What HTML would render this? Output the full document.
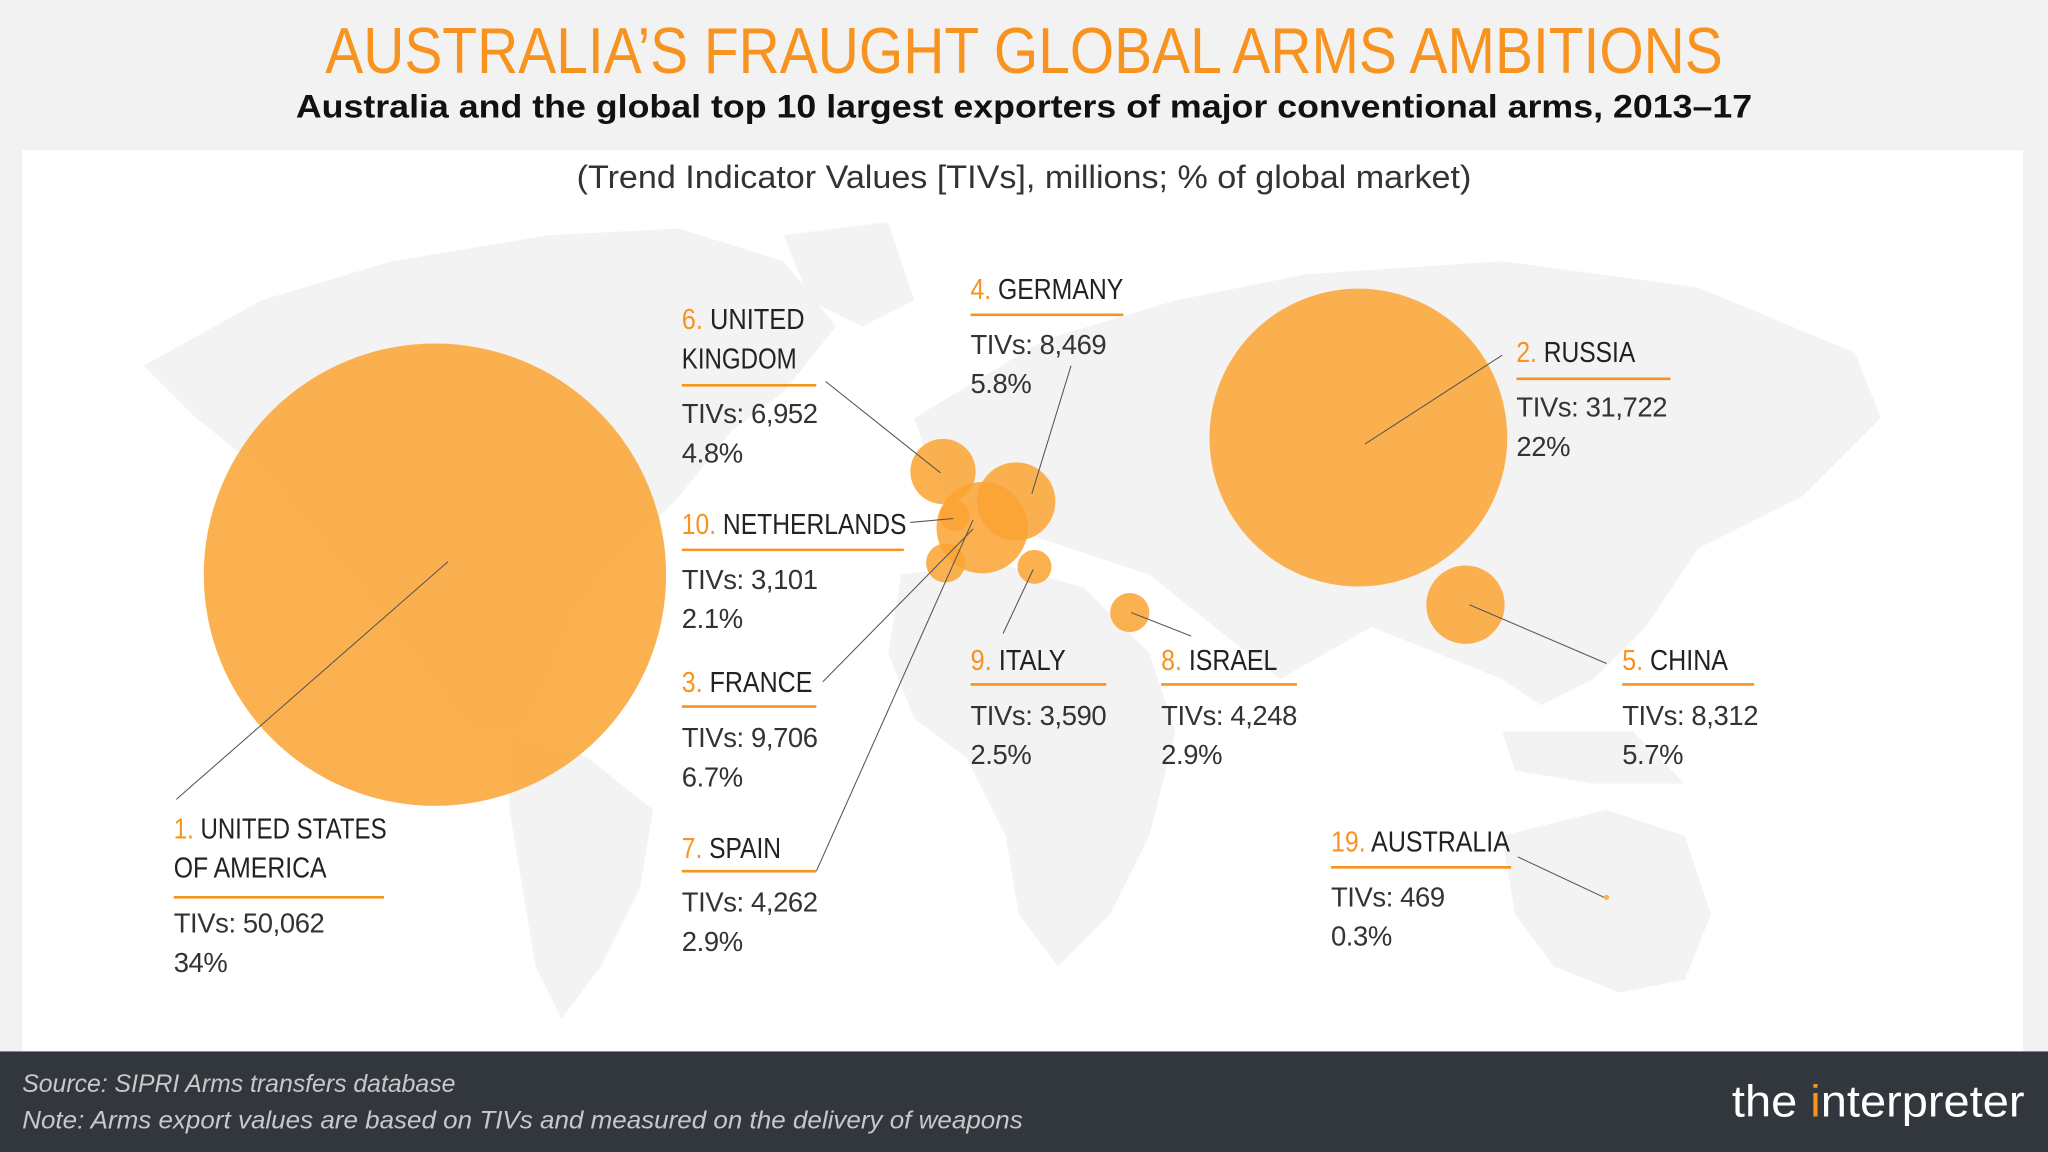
<!DOCTYPE html>
<html><head><meta charset="utf-8"><style>
html,body{margin:0;padding:0;background:#f2f2f2;}
svg{display:block;}
text{font-family:"Liberation Sans",sans-serif;}
.n{font-size:22px;fill:#222;}
.o{fill:#f7931e}
.v{font-size:21px;fill:#333;letter-spacing:-0.3px}
.u{stroke:#f7931e;stroke-width:2}
.l{stroke:#555;stroke-width:0.8}
.b{fill:#fba333;fill-opacity:0.85}
.m{fill:#f3f3f3}
</style></head><body>
<svg width="2048" height="1152" viewBox="0 0 1568 882" xmlns="http://www.w3.org/2000/svg">
<rect width="1568" height="882" fill="#f2f2f2"/>
<text x="784" y="56" text-anchor="middle" font-size="50" fill="#f7931e" textLength="1070" lengthAdjust="spacingAndGlyphs">AUSTRALIA’S FRAUGHT GLOBAL ARMS AMBITIONS</text>
<text x="784" y="90" text-anchor="middle" font-size="25" font-weight="bold" fill="#111" textLength="1115" lengthAdjust="spacingAndGlyphs">Australia and the global top 10 largest exporters of major conventional arms, 2013–17</text>
<rect x="17" y="115" width="1532" height="690" fill="#fff"/>
<g class="m">
<path d="M110 280 L200 230 L300 200 L420 180 L520 175 L600 200 L640 250 L600 300 L560 330 L520 380 L470 430 L440 470 L420 520 L400 560 L360 560 L330 520 L300 480 L250 420 L200 360 L150 320 Z"/>
<path d="M390 560 L450 580 L500 620 L490 680 L460 740 L430 780 L410 740 L400 680 L390 620 Z"/>
<path d="M600 180 L680 170 L700 230 L660 250 L620 230 Z"/>
<path d="M690 440 L760 430 L830 450 L880 500 L900 560 L880 640 L850 700 L810 740 L780 700 L770 640 L740 580 L700 550 L680 500 Z"/>
<path d="M700 320 L800 260 L900 230 L1000 210 L1150 200 L1300 220 L1420 270 L1440 320 L1380 380 L1300 420 L1260 480 L1220 520 L1180 540 L1150 520 L1100 500 L1050 480 L980 520 L930 480 L880 440 L820 420 L760 400 L720 380 Z"/>
<path d="M1150 640 L1230 620 L1290 640 L1310 700 L1290 750 L1240 760 L1190 740 L1160 700 Z"/>
<path d="M1150 560 L1250 560 L1290 600 L1220 600 L1160 590 Z"/>
</g>
<text x="784" y="144" text-anchor="middle" font-size="25" fill="#333" textLength="685" lengthAdjust="spacingAndGlyphs">(Trend Indicator Values [TIVs], millions; % of global market)</text>
<circle class="b" cx="333" cy="440" r="177"/>
<circle class="b" cx="1040" cy="335" r="114"/>
<circle class="b" cx="1122" cy="463" r="30"/>
<circle class="b" cx="722" cy="361" r="25"/>
<circle class="b" cx="752" cy="404" r="35"/>
<circle class="b" cx="778" cy="384" r="30"/>
<circle class="b" cx="731" cy="395" r="11.5"/>
<circle class="b" cx="724" cy="431" r="15"/>
<circle class="b" cx="792" cy="434" r="13"/>
<circle class="b" cx="865" cy="469" r="15"/>
<circle class="b" cx="1230" cy="687" r="2"/>
<g class="l">
<line x1="135" y1="612" x2="343" y2="430"/>
<line x1="632" y1="292" x2="720" y2="362"/>
<line x1="820" y1="280" x2="790" y2="378"/>
<line x1="697" y1="400" x2="730" y2="397"/>
<line x1="630" y1="522" x2="745" y2="405"/>
<line x1="625" y1="667" x2="745" y2="398"/>
<line x1="768" y1="485" x2="791" y2="436"/>
<line x1="912" y1="487" x2="866" y2="469"/>
<line x1="1150" y1="272" x2="1045" y2="340"/>
<line x1="1230" y1="508" x2="1125" y2="463"/>
<line x1="1162" y1="656" x2="1228" y2="687"/>
</g>
<g>
<text class="n" x="133" y="642" textLength="163" lengthAdjust="spacingAndGlyphs"><tspan class="o">1.</tspan> UNITED STATES</text>
<text class="n" x="133" y="672" textLength="117" lengthAdjust="spacingAndGlyphs">OF AMERICA</text>
<line class="u" x1="133" y1="687" x2="294" y2="687"/>
<text class="v" x="133" y="714">TIVs: 50,062</text><text class="v" x="133" y="744">34%</text>

<text class="n" x="522" y="252" textLength="94" lengthAdjust="spacingAndGlyphs"><tspan class="o">6.</tspan> UNITED</text>
<text class="n" x="522" y="282" textLength="88" lengthAdjust="spacingAndGlyphs">KINGDOM</text>
<line class="u" x1="522" y1="295" x2="625" y2="295"/>
<text class="v" x="522" y="324">TIVs: 6,952</text><text class="v" x="522" y="354">4.8%</text>

<text class="n" x="743" y="229" textLength="117" lengthAdjust="spacingAndGlyphs"><tspan class="o">4.</tspan> GERMANY</text>
<line class="u" x1="743" y1="241" x2="860" y2="241"/>
<text class="v" x="743" y="271">TIVs: 8,469</text><text class="v" x="743" y="301">5.8%</text>

<text class="n" x="522" y="409" textLength="172" lengthAdjust="spacingAndGlyphs"><tspan class="o">10.</tspan> NETHERLANDS</text>
<line class="u" x1="522" y1="421" x2="692" y2="421"/>
<text class="v" x="522" y="451">TIVs: 3,101</text><text class="v" x="522" y="481">2.1%</text>

<text class="n" x="522" y="530" textLength="100" lengthAdjust="spacingAndGlyphs"><tspan class="o">3.</tspan> FRANCE</text>
<line class="u" x1="522" y1="541" x2="625" y2="541"/>
<text class="v" x="522" y="572">TIVs: 9,706</text><text class="v" x="522" y="602">6.7%</text>

<text class="n" x="522" y="657" textLength="76" lengthAdjust="spacingAndGlyphs"><tspan class="o">7.</tspan> SPAIN</text>
<line class="u" x1="522" y1="667" x2="625" y2="667"/>
<text class="v" x="522" y="698">TIVs: 4,262</text><text class="v" x="522" y="728">2.9%</text>

<text class="n" x="743" y="513" textLength="73" lengthAdjust="spacingAndGlyphs"><tspan class="o">9.</tspan> ITALY</text>
<line class="u" x1="743" y1="524" x2="847" y2="524"/>
<text class="v" x="743" y="555">TIVs: 3,590</text><text class="v" x="743" y="585">2.5%</text>

<text class="n" x="889" y="513" textLength="89" lengthAdjust="spacingAndGlyphs"><tspan class="o">8.</tspan> ISRAEL</text>
<line class="u" x1="889" y1="524" x2="993" y2="524"/>
<text class="v" x="889" y="555">TIVs: 4,248</text><text class="v" x="889" y="585">2.9%</text>

<text class="n" x="1161" y="277" textLength="91" lengthAdjust="spacingAndGlyphs"><tspan class="o">2.</tspan> RUSSIA</text>
<line class="u" x1="1161" y1="290" x2="1279" y2="290"/>
<text class="v" x="1161" y="319">TIVs: 31,722</text><text class="v" x="1161" y="349">22%</text>

<text class="n" x="1242" y="513" textLength="81" lengthAdjust="spacingAndGlyphs"><tspan class="o">5.</tspan> CHINA</text>
<line class="u" x1="1242" y1="524" x2="1343" y2="524"/>
<text class="v" x="1242" y="555">TIVs: 8,312</text><text class="v" x="1242" y="585">5.7%</text>

<text class="n" x="1019" y="652" textLength="137" lengthAdjust="spacingAndGlyphs"><tspan class="o">19.</tspan> AUSTRALIA</text>
<line class="u" x1="1019" y1="664" x2="1157" y2="664"/>
<text class="v" x="1019" y="694">TIVs: 469</text><text class="v" x="1019" y="724">0.3%</text>
</g>
<rect x="0" y="805" width="1568" height="77" fill="#32363d"/>
<text x="17" y="836" font-size="19" font-style="italic" fill="#c8c8c8">Source: SIPRI Arms transfers database</text>
<text x="17" y="864" font-size="19" font-style="italic" fill="#c8c8c8" textLength="766" lengthAdjust="spacingAndGlyphs">Note: Arms export values are based on TIVs and measured on the delivery of weapons</text>
<text x="1326" y="855" font-size="34" fill="#fff" textLength="224" lengthAdjust="spacingAndGlyphs">the <tspan fill="#f7931e">i</tspan>nterpreter</text>
</svg>
</body></html>
